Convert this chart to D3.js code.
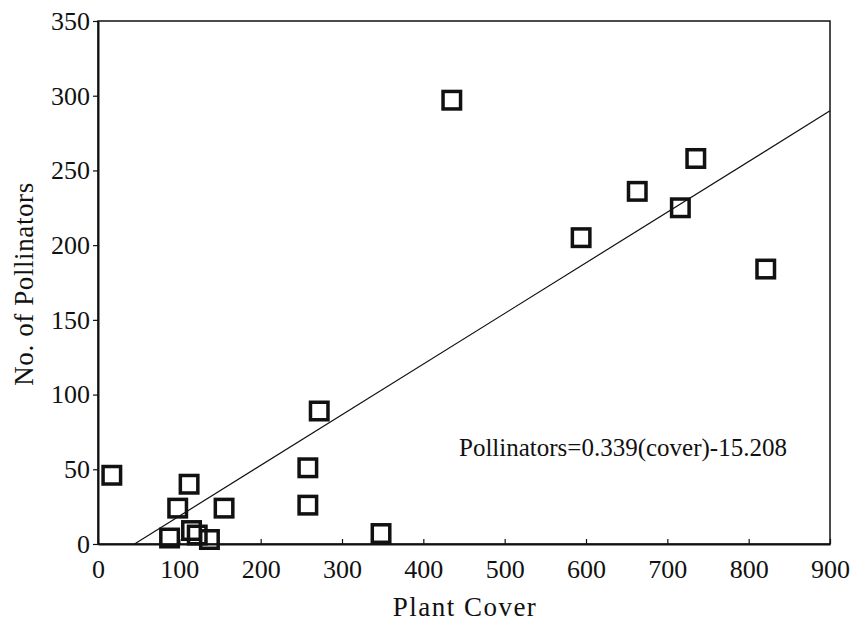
<!DOCTYPE html>
<html>
<head>
<meta charset="utf-8">
<script src="https://cdn.jsdelivr.net/npm/d3@7"></script>
<style>
  body { margin: 0; background: #fff; }
  svg text { font-family: "Liberation Serif", "Times New Roman", serif; fill: #111; }
</style>
</head>
<body>
<script>
// plant cover vs number of pollinators
const cover      = [17, 112, 98, 155, 115, 88, 122, 137, 272, 258, 258, 348, 435, 735, 663, 716, 594, 821];
const pollinators = [46, 40, 24, 24, 9, 4, 6, 3, 89, 51, 26, 7, 297, 258, 236, 225, 205, 184];
const xTicks = [0, 100, 200, 300, 400, 500, 600, 700, 800, 900];
const yTicks = [0, 50, 100, 150, 200, 250, 300, 350];
const slope = 0.339, intercept = -15.208;

const width = 854, height = 621;
const mLeft = 98, mRight = 830, mTop = 21, mBottom = 544;

const svg = d3.select("body").append("svg")
    .attr("width", width)
    .attr("height", height);

const x = d3.scaleLinear().domain([0, 900]).range([mLeft, mRight]);
const y = d3.scaleLinear().domain([0, 350]).range([mBottom, mTop]);

// frame
svg.append("rect")
    .attr("x", mLeft).attr("y", mTop)
    .attr("width", mRight - mLeft).attr("height", mBottom - mTop)
    .style("fill", "none").style("stroke", "#111").style("stroke-width", 1.5);

const xAxis = d3.axisBottom(x).tickValues(xTicks).tickSizeInner(-5).tickSizeOuter(0).tickPadding(16);
const yAxis = d3.axisLeft(y).tickValues(yTicks).tickSizeInner(5).tickSizeOuter(0).tickPadding(3);

const gx = svg.append("g").attr("transform", `translate(0,${mBottom})`).call(xAxis);
const gy = svg.append("g").attr("transform", `translate(${mLeft},0)`).call(yAxis);
[gx, gy].forEach(g => {
  g.attr("font-family", null).attr("font-size", null);
  g.select(".domain").style("stroke", "#111").style("stroke-width", 2);
  g.selectAll(".tick line").style("stroke", "#111").style("stroke-width", 1.2);
  g.selectAll(".tick text").style("font-size", "26px");
});

// regression line
const x0 = -intercept / slope;
const linePts = [x0, 900].map(c => ({c: c, p: slope * c + intercept}));
svg.append("path")
    .attr("d", d3.line().x(d => x(d.c)).y(d => y(d.p))(linePts))
    .style("fill", "none").style("stroke", "#111").style("stroke-width", 1.2);

// square markers
const s = 17.5;
svg.selectAll("rect.pt")
    .data(cover.map((c, i) => ({c: c, p: pollinators[i]})))
    .join("rect")
    .attr("class", "pt")
    .attr("x", d => x(d.c) - s / 2)
    .attr("y", d => y(d.p) - s / 2)
    .attr("width", s).attr("height", s)
    .style("fill", "none").style("stroke", "#111").style("stroke-width", 3.5);

svg.append("text")
    .attr("x", 459).attr("y", 456)
    .style("font-size", "25px")
    .text("Pollinators=0.339(cover)-15.208");

svg.append("text")
    .attr("x", 465).attr("y", 616)
    .attr("text-anchor", "middle")
    .style("font-size", "27px")
    .style("letter-spacing", "1.5px")
    .text("Plant Cover");

svg.append("text")
    .attr("transform", `translate(33,284) rotate(-90)`)
    .attr("text-anchor", "middle")
    .style("font-size", "27px")
    .style("letter-spacing", "0.6px")
    .text("No. of Pollinators");
</script>
</body>
</html>
